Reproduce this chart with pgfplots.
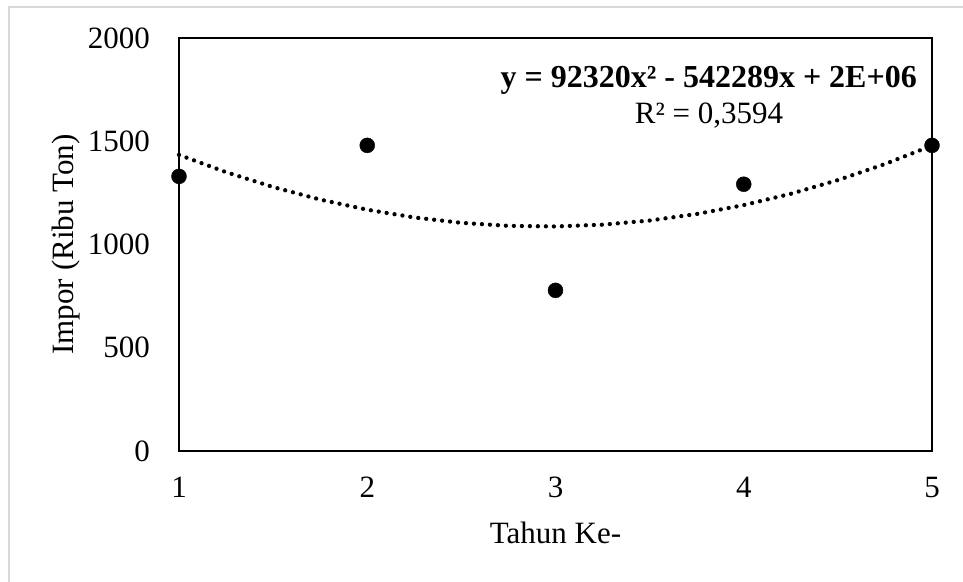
\documentclass[border=0pt]{standalone}
\usepackage{pgfplots}
\pgfplotsset{compat=1.18}
\usepackage{fontspec}
\setmainfont{Liberation Serif}
\begin{document}
\fontsize{31}{37}\selectfont
\begin{tikzpicture}
\useasboundingbox (0pt,0pt) rectangle (963pt,-581pt);
\draw[color={rgb,255:red,217;green,217;blue,217}, line width=1.5pt] (9pt,-590pt) -- (9pt,-7pt) -- (970pt,-7pt);
\begin{axis}[
  at={(179pt,-451pt)}, anchor=south west,
  scale only axis, width=753pt, height=413pt,
  xmin=1, xmax=5, ymin=0, ymax=2000,
  xtick={1,2,3,4,5}, ytick={0,500,1000,1500,2000},
  major tick length=0pt,
  axis line style={line width=2.5pt},
  /pgf/number format/assume math mode=true,
  /pgf/number format/1000 sep={},
  ticklabel style={font=\fontsize{31}{37}\selectfont},
  yticklabel style={anchor=east, inner sep=0pt, xshift=-29pt},
  xticklabel style={anchor=north, inner sep=0pt, yshift=-26pt},
  clip=false,
]
\addplot[black, line width=4.3pt, dash pattern=on 0pt off 8pt, line cap=round] coordinates {
(1,1434.2) (1.25,1350.4) (1.5,1278.3) (1.75,1217.6) (2,1168.5) (2.25,1130.9) (2.5,1104.9) (2.75,1090.4)
(3,1087.4) (3.25,1096.0) (3.5,1116.1) (3.75,1147.7) (4,1190.9) (4.25,1245.6) (4.5,1311.9) (4.75,1389.6) (5,1479.0)
};
\addplot[only marks, mark=*, mark size=7.5pt, mark options={fill=black, draw=none}] coordinates {
(1,1330) (2,1480) (3,778) (4,1292) (5,1480)
};
\end{axis}
\node[anchor=base, inner sep=0pt] at (555.5pt,-543pt) {Tahun Ke-};
\node[anchor=base, inner sep=0pt, rotate=90] at (73pt,-244.5pt) {Impor (Ribu Ton)};
\node[anchor=base east, inner sep=0pt] at (917pt,-87pt) {\fontsize{32}{37}\selectfont\bfseries y = 92320x² - 542289x + 2E+06};
\node[anchor=base, inner sep=0pt] at (709pt,-123pt) {R² = 0,3594};
\end{tikzpicture}
\end{document}
